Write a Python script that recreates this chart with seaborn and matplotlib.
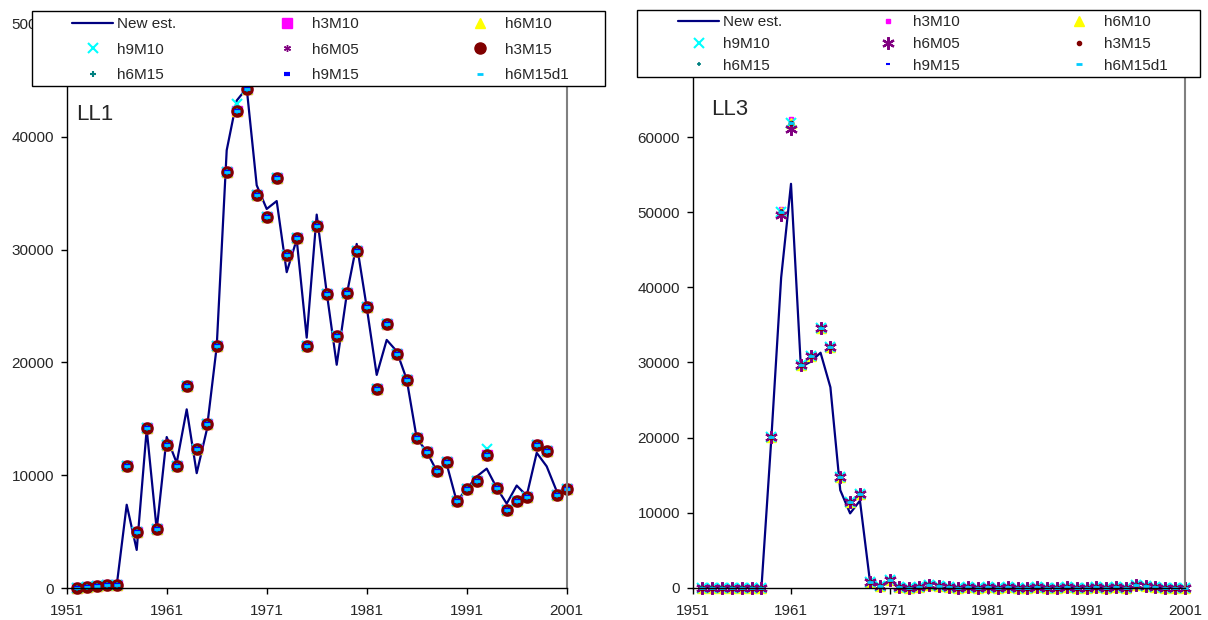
import matplotlib
matplotlib.use("Agg")
import matplotlib.pyplot as plt
from matplotlib.patches import Rectangle
import seaborn as sns

# ---- data ----
years = list(range(1952, 2002))

ll1_new_est = [0, 100, 200, 200, 250, 7400, 3400, 14100, 5200, 13400,
               11100, 15850, 10200, 14000, 21400, 38800, 43200, 44300, 35700, 33600,
               34300, 28000, 30900, 22200, 33100, 26200, 19800, 26000, 30500, 24900,
               18900, 22000, 21000, 18500, 13300, 12100, 10400, 11000, 7700, 8800,
               9900, 10600, 8900, 7500, 9100, 8200, 12000, 10800, 8600, 8700]

ll1_obs = [0, 100, 200, 250, 250, 10860, 4990, 14220, 5230, 12650,
           10800, 17930, 12380, 14570, 21490, 36870, 42270, 44200, 34850, 32920,
           36330, 29500, 31050, 21430, 32120, 26090, 22320, 26150, 29860, 24900,
           17630, 23420, 20750, 18460, 13270, 12080, 10360, 11190, 7690, 8790,
           9470, 11840, 8880, 6950, 7750, 8130, 12670, 12140, 8280, 8790]

ll1_h9m10 = list(ll1_obs)
ll1_h9m10[16] = 42900   # 1968
ll1_h9m10[41] = 12300   # 1993

ll3_new_est = [0, 0, 0, 0, 0, 0, 0, 19800, 41300, 53800,
               29400, 30100, 31300, 26700, 13000, 9900, 11600, 1000, 300, 900,
               0, 0, 0, 0, 0, 0, 0, 0, 0, 0,
               0, 0, 0, 0, 0, 0, 0, 0, 0, 0,
               0, 0, 0, 0, 0, 0, 0, 0, 0, 0]

ll3_obs = [0, 0, 0, 0, 0, 0, 0, 20050, 50100, 61900,
           29600, 30800, 34600, 32000, 14700, 11400, 12500, 800, 230, 1020,
           100, 0, 100, 400, 200, 100, 0, 100, 0, 100,
           0, 100, 0, 0, 100, 0, 0, 100, 0, 0,
           100, 0, 100, 0, 350, 200, 100, 0, 0, 0]

ll3_h3m10 = list(ll3_obs)
ll3_h3m10[8] = 50400    # 1960
ll3_h3m10[9] = 62500    # 1961

ll3_h6m05 = list(ll3_obs)
ll3_h6m05[8] = 49600
ll3_h6m05[9] = 61100

series_names = ['h3M10', 'h6M10', 'h9M10', 'h6M05', 'h3M15', 'h6M15', 'h9M15', 'h6M15d1']
ll1_series = [ll1_obs, ll1_obs, ll1_h9m10, ll1_obs, ll1_obs, ll1_obs, ll1_obs, ll1_obs]
ll3_series = [ll3_h3m10, ll3_obs, ll3_obs, ll3_h6m05, ll3_obs, ll3_obs, ll3_obs, ll3_obs]

# ---- styles ----
series_colors = ['#FF00FF', '#FFFF00', '#00FFFF', '#800080', '#800000', '#008080', '#0000FF', '#00CCFF']
series_markers = ['s', '^', 'x', (6, 2, 0), 'o', '+', '_', '_']
ll1_sizes = [7.5, 7.5, 7, 5, 8, 4, 5, 4]
ll1_widths = [1, 1, 1.5, 1, 1, 1.5, 3, 2]
ll3_sizes = [3.5, 7.5, 6.5, 9, 3, 3.5, 3, 4]
ll3_widths = [1, 1, 1.5, 1.6, 1, 1.2, 1.5, 2]

sns.set_style("white")
plt.rcParams['font.family'] = ['Liberation Sans', 'DejaVu Sans']

W, H = 1208, 620
fig = plt.figure(figsize=(W / 100, H / 100), dpi=100)
ax1 = fig.add_axes([66.7 / W, 1 - 588.3 / H, 500 / W, 564.5 / H])
ax2 = fig.add_axes([692.5 / W, 1 - 587.7 / H, 492.5 / W, 525.5 / H])


def draw_panel(ax, new_est, series, sizes, widths, name, ymax, text_pos):
    sns.lineplot(x=years, y=new_est, ax=ax, color='#000080', linewidth=1.6,
                 label='New est.', legend=False)
    for lab, vals, col, mk, ms, mw in zip(series_names, series, series_colors,
                                          series_markers, sizes, widths):
        sns.lineplot(x=years, y=vals, ax=ax, color=col, marker=mk, linestyle='',
                     markersize=ms, markeredgewidth=mw, markeredgecolor=col,
                     markerfacecolor=col, label=lab, legend=False, clip_on=False)
    ax.set_xlim(1951, 2001)
    ax.set_ylim(0, ymax)
    ax.set_xticks(range(1951, 2002, 10))
    ax.set_yticks(range(0, ymax + 1, 10000))
    ax.set_xlabel('')
    ax.set_ylabel('')
    ax.tick_params(bottom=True, left=True, direction='out', length=4, width=1,
                   color='black', labelsize=11)
    ax.tick_params(axis='x', pad=7.5)
    ax.tick_params(axis='y', pad=5)
    for s in ['left', 'bottom']:
        ax.spines[s].set_color('black')
        ax.spines[s].set_linewidth(1)
    for s in ['right', 'top']:
        ax.spines[s].set_color('#808080')
        ax.spines[s].set_linewidth(1.5)
    ax.text(text_pos[0], text_pos[1], name, transform=ax.transAxes, fontsize=16,
            va='baseline', ha='left')


draw_panel(ax1, ll1_new_est, ll1_series, ll1_sizes, ll1_widths, 'LL1', 50000, (0.019, 0.83))
draw_panel(ax2, ll3_new_est, ll3_series, ll3_sizes, ll3_widths, 'LL3', 70000, (0.038, 0.899))


def add_legend(ax, frame, col_x, top_y, spacing):
    handles, labels = ax.get_legend_handles_labels()
    x0, y0, x1, y1 = frame
    fig.add_artist(Rectangle((x0 / W, 1 - y1 / H), (x1 - x0) / W, (y1 - y0) / H,
                             transform=fig.transFigure, facecolor='white',
                             edgecolor='black', linewidth=1, zorder=4))
    for j, x in enumerate(col_x):
        idx = [j, j + 3, j + 6]
        fig.legend([handles[i] for i in idx], [labels[i] for i in idx],
                   loc='upper left', bbox_to_anchor=(x / W, 1 - top_y / H),
                   frameon=False, borderpad=0, borderaxespad=0, handlelength=2.7,
                   handletextpad=0.25, labelspacing=spacing, fontsize=11)


add_legend(ax1, (31.7, 10.7, 605, 86), [72, 266.5, 459.5], 17.5, 0.74)
add_legend(ax2, (637, 10, 1200, 77), [678, 867.5, 1058.5], 15.5, 0.5)

fig.savefig('out.png', dpi=100)
